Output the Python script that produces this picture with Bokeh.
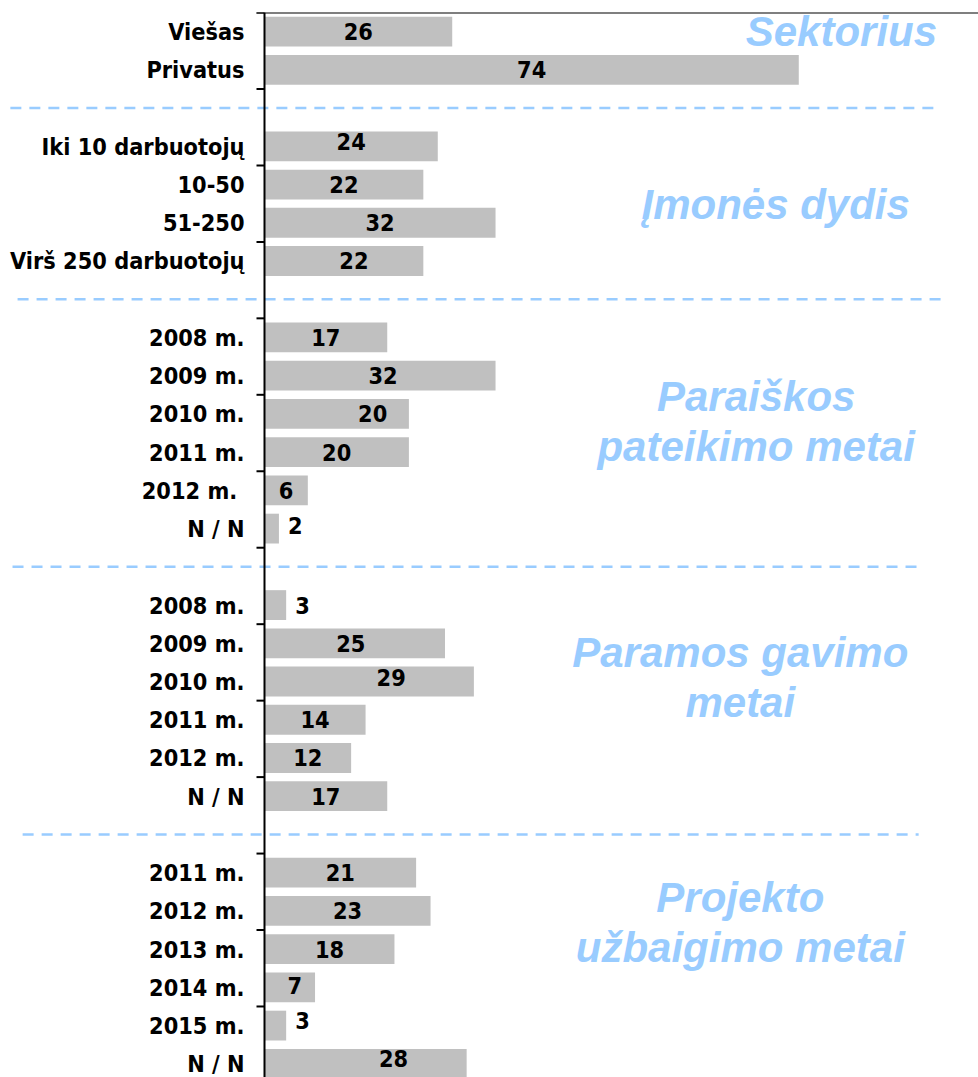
from bokeh.plotting import figure
from bokeh.models import Range1d, Span, ColumnDataSource
from bokeh.core.properties import value
from bokeh.embed import file_html
from bokeh.resources import INLINE

# ---------------- data ----------------
sector_labels = ["Viešas", "Privatus"]
sector_values = [26, 74]

size_labels = ["Iki 10 darbuotojų", "10-50", "51-250", "Virš 250 darbuotojų"]
size_values = [24, 22, 32, 22]

application_labels = ["2008 m.", "2009 m.", "2010 m.", "2011 m.", "2012 m. ", "N / N"]
application_values = [17, 32, 20, 20, 6, 2]

funding_labels = ["2008 m.", "2009 m.", "2010 m.", "2011 m.", "2012 m.", "N / N"]
funding_values = [3, 25, 29, 14, 12, 17]

completion_labels = ["2011 m.", "2012 m.", "2013 m.", "2014 m.", "2015 m.", "N / N"]
completion_values = [21, 23, 18, 7, 3, 28]

section_titles = ["Sektorius", "Įmonės dydis", "Paraiškos\npateikimo metai",
                  "Paramos gavimo\nmetai", "Projekto\nužbaigimo metai"]

sections = [
    (sector_labels, sector_values),
    (size_labels, size_values),
    (application_labels, application_values),
    (funding_labels, funding_values),
    (completion_labels, completion_values),
]

# ---------------- layout (positions / styles) ----------------
PLOT_W, PLOT_H = 978, 1077
AXIS_PX = 264            # axis position from plot left, px
PX_PER_UNIT = 7.22       # horizontal scale
ROW_PX = 38.23           # row height
TOP_PX = 12              # frame top offset

# manual value-label nudges in pixels (dx, dy), in row order
label_nudges = [
    (0, 0), (0, 0),
    (0, -5), (0, 0), (0, 0), (10, 0),
    (0, 0), (3, 0), (36, 0), (0, 0), (0, 0), (0, -3),
    (0, 0), (-4, 0), (22, -4), (0, 0), (0, 0), (0, 0),
    (0, 0), (0, 0), (0, 0), (5, -2), (0, -5), (28, -5),
]
title_x = [79.9, 70.8, 68.1, 65.9, 65.9]
title_y = [0.0, 4.52, 10.2, 16.9, 23.3]
sep_x = [(-35.2, 93.2), (-34.2, 94.0), (-34.9, 90.9), (-33.5, 90.6)]

BAR = "#C0C0C0"
BLUE = "#99CCFF"
LABEL_FONT = "DejaVu Sans Condensed"
TITLE_FONT = "Liberation Sans"

# ---------------- build rows ----------------
rows, names, vals, sep_rows = [], [], [], []
pos = 0
for si, (labs, vs) in enumerate(sections):
    for l, v in zip(labs, vs):
        rows.append(pos)
        names.append(l)
        vals.append(v)
        pos += 1
    if si < len(sections) - 1:
        sep_rows.append(pos)
        pos += 1
total_rows = pos  # 28

x_start = -AXIS_PX / PX_PER_UNIT
x_end = (PLOT_W - AXIS_PX) / PX_PER_UNIT
y_top = -0.5
y_bottom = y_top + (PLOT_H - TOP_PX) / ROW_PX

p = figure(width=PLOT_W, height=PLOT_H, output_backend="svg", toolbar_location=None,
           x_axis_location=None, y_axis_location=None,
           x_range=Range1d(x_start, x_end), y_range=Range1d(y_bottom, y_top),
           min_border_left=0, min_border_right=0, min_border_top=TOP_PX, min_border_bottom=0)
p.outline_line_color = None
p.grid.visible = False
p.background_fill_color = "white"

# bars
src = ColumnDataSource(dict(
    y=rows, v=vals, name=names,
    lx=[v / 2 if v >= 5 else v for v in vals],
    align=["center" if v >= 5 else "left" for v in vals],
    dx=[n[0] + (0 if v >= 5 else 9) for n, v in zip(label_nudges, vals)],
    dy=[n[1] for n in label_nudges],
    txt=[str(v) for v in vals],
))
p.hbar(y="y", left=0, right="v", height=0.78, source=src,
       fill_color=BAR, line_color=None)

# value labels
p.text(x="lx", y="y", text="txt", source=src, text_align="align",
       text_baseline="middle", x_offset="dx", y_offset="dy",
       text_font=value(LABEL_FONT), text_font_style="bold",
       text_font_size="23.3px", text_color="black")

# category labels (left of the axis)
p.text(x=0, y="y", text="name", source=src, text_align="right",
       text_baseline="middle", x_offset=-20,
       text_font=value(LABEL_FONT), text_font_style="bold",
       text_font_size="23.3px", text_color="black")

# section titles
p.text(x=title_x, y=title_y,
       text=section_titles, text_align="center", text_baseline="middle",
       text_font=value(TITLE_FONT), text_font_style="bold italic",
       text_font_size="42px", text_color=BLUE, text_line_height=1.06)

# separators
p.segment(x0=[a for a, b in sep_x], x1=[b for a, b in sep_x],
          y0=sep_rows, y1=sep_rows,
          line_color=BLUE, line_width=2.5, line_dash="11 8")

# axis line, tick marks, top border
tick_len = 8 / PX_PER_UNIT
bounds = [b - 0.5 for b in range(0, total_rows + 1, 2)]
p.add_layout(Span(location=0, dimension="height", line_color="black", line_width=2))
p.segment(x0=[-tick_len] * len(bounds), x1=[0] * len(bounds), y0=bounds, y1=bounds,
          line_color="black", line_width=2)
p.segment(x0=[-tick_len], x1=[x_end], y0=[y_top], y1=[y_top],
          line_color="black", line_width=2)

open("out.html", "w").write(file_html(p, INLINE))
